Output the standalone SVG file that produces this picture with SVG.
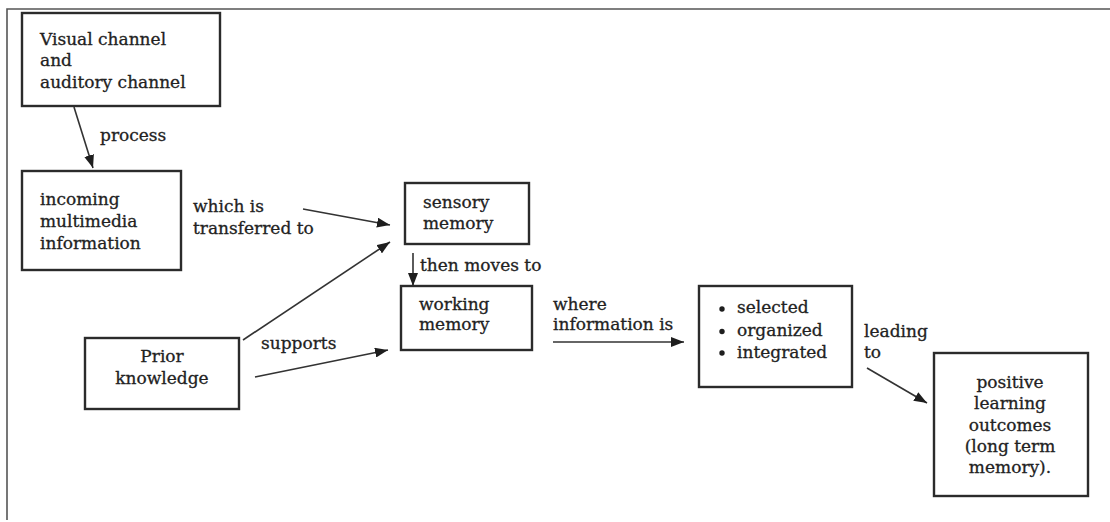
<svg xmlns="http://www.w3.org/2000/svg" width="1110" height="522" viewBox="0 0 1110 522">
  <style>
    .box { fill: #ffffff; stroke: #2b2b2b; stroke-width: 2.4; }
    .t { font-family: "DejaVu Serif", "Liberation Serif", serif; font-size: 17px; fill: #222222; stroke: #222222; stroke-width: 0.3; }
    .c { text-anchor: middle; }
    .edge { stroke: #333333; stroke-width: 1.6; fill: none; marker-end: url(#head); }
    .frame { stroke: #555555; stroke-width: 1.6; fill: none; }
  </style>
  <defs>
    <marker id="head" viewBox="0 0 13 10" refX="13" refY="5" markerWidth="13" markerHeight="10" markerUnits="userSpaceOnUse" orient="auto">
      <path d="M0,0 L13,5 L0,10 Z" fill="#1e1e1e"/>
    </marker>
  </defs>

  <rect width="1110" height="522" fill="#ffffff"/>
  <!-- page frame -->
  <path class="frame" d="M7,520 L7,9 L1110,9"/>

  <g id="visual-auditory">
    <rect class="box" x="22" y="13" width="198" height="93"/>
    <text class="t" x="40" y="45">Visual channel</text>
    <text class="t" x="40" y="66">and</text>
    <text class="t" x="40" y="88">auditory channel</text>
  </g>

  <g id="incoming">
    <rect class="box" x="22" y="171" width="159" height="99"/>
    <text class="t" x="40" y="205">incoming</text>
    <text class="t" x="40" y="227">multimedia</text>
    <text class="t" x="40" y="249">information</text>
  </g>

  <g id="sensory">
    <rect class="box" x="405" y="183" width="124" height="61"/>
    <text class="t" x="423" y="208">sensory</text>
    <text class="t" x="423" y="229">memory</text>
  </g>

  <g id="working">
    <rect class="box" x="401" y="286" width="131" height="64"/>
    <text class="t" x="419" y="310">working</text>
    <text class="t" x="419" y="330">memory</text>
  </g>

  <g id="prior">
    <rect class="box" x="85" y="338" width="154" height="71"/>
    <text class="t c" x="162" y="362">Prior</text>
    <text class="t c" x="162" y="384">knowledge</text>
  </g>

  <g id="processing">
    <rect class="box" x="699" y="286" width="153" height="101"/>
    <circle cx="722" cy="309" r="2.7" fill="#1e1e1e"/>
    <circle cx="722" cy="331.5" r="2.7" fill="#1e1e1e"/>
    <circle cx="722" cy="353" r="2.7" fill="#1e1e1e"/>
    <text class="t" x="737" y="313">selected</text>
    <text class="t" x="737" y="336">organized</text>
    <text class="t" x="737" y="358">integrated</text>
  </g>

  <g id="outcomes">
    <rect class="box" x="934" y="353" width="154" height="143"/>
    <text class="t c" x="1010" y="388">positive</text>
    <text class="t c" x="1010" y="409">learning</text>
    <text class="t c" x="1010" y="431">outcomes</text>
    <text class="t c" x="1010" y="452">(long term</text>
    <text class="t c" x="1010" y="473">memory).</text>
  </g>

  <g id="connectors">
    <line class="edge" x1="74" y1="107" x2="93" y2="168"/>
    <line class="edge" x1="303" y1="209" x2="390" y2="225"/>
    <line class="edge" x1="243" y1="340" x2="390" y2="242"/>
    <line class="edge" x1="413" y1="253" x2="413" y2="286"/>
    <line class="edge" x1="255" y1="377" x2="388" y2="350"/>
    <line class="edge" x1="553" y1="342" x2="684" y2="342"/>
    <line class="edge" x1="867" y1="368" x2="927" y2="403"/>
    <text class="t" x="100" y="141">process</text>
    <text class="t" x="193" y="212">which is</text>
    <text class="t" x="193" y="234">transferred to</text>
    <text class="t" x="420" y="271">then moves to</text>
    <text class="t" x="261" y="349">supports</text>
    <text class="t" x="553" y="310">where</text>
    <text class="t" x="553" y="330">information is</text>
    <text class="t" x="864" y="337">leading</text>
    <text class="t" x="864" y="358">to</text>
  </g>
</svg>
